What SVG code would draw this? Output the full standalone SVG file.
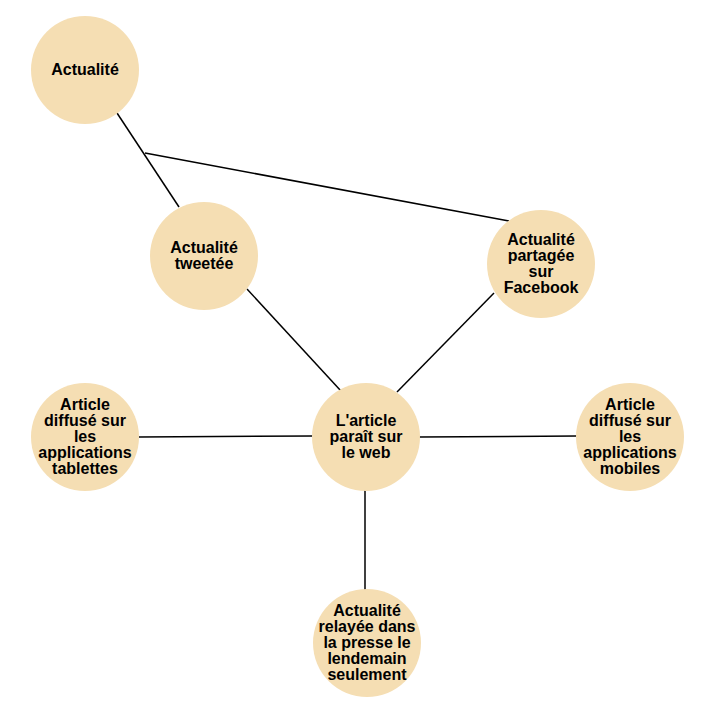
<svg xmlns="http://www.w3.org/2000/svg" width="718" height="725" viewBox="0 0 718 725">
<style>
.n{fill:#F5DEB3;stroke:none}
.t{font-family:"Liberation Sans",Arial,sans-serif;font-weight:bold;font-size:16px;fill:#000;text-anchor:middle}
.c line,.c polyline{stroke:#000;stroke-width:1.5;fill:none}
</style>
<rect width="718" height="725" fill="#fff"/>
<g id="connectors" class="c">
<line x1="117" y1="113" x2="179" y2="207"/>
<line x1="145" y1="153" x2="509" y2="221"/>
<line x1="247" y1="289" x2="341" y2="391"/>
<line x1="494" y1="293" x2="397" y2="392"/>
<line x1="139" y1="437" x2="313" y2="436"/>
<line x1="419" y1="437" x2="577" y2="436"/>
<line x1="365" y1="490" x2="365" y2="590"/>
</g>
<g id="actualite"><circle class="n" cx="85" cy="70" r="54"/><text class="t" x="85" y="75">Actualité</text></g>
<g id="tweetee"><circle class="n" cx="204" cy="256" r="54"/><text class="t" x="204" y="253">Actualité</text><text class="t" x="204" y="269">tweetée</text></g>
<g id="facebook"><circle class="n" cx="541" cy="264" r="54"/><text class="t" x="541" y="245">Actualité</text><text class="t" x="541" y="261">partagée</text><text class="t" x="541" y="277">sur</text><text class="t" x="541" y="293">Facebook</text></g>
<g id="web"><circle class="n" cx="366" cy="437" r="54"/><text class="t" x="366" y="426">L'article</text><text class="t" x="366" y="442">paraît sur</text><text class="t" x="366" y="458">le web</text></g>
<g id="tablettes"><circle class="n" cx="85" cy="437" r="54"/><text class="t" x="85" y="410">Article</text><text class="t" x="85" y="426">diffusé sur</text><text class="t" x="85" y="442">les</text><text class="t" x="85" y="458">applications</text><text class="t" x="85" y="474">tablettes</text></g>
<g id="mobiles"><circle class="n" cx="630" cy="437" r="54"/><text class="t" x="630" y="410">Article</text><text class="t" x="630" y="426">diffusé sur</text><text class="t" x="630" y="442">les</text><text class="t" x="630" y="458">applications</text><text class="t" x="630" y="474">mobiles</text></g>
<g id="presse"><circle class="n" cx="367" cy="643" r="54"/><text class="t" x="367" y="616">Actualité</text><text class="t" x="367" y="632">relayée dans</text><text class="t" x="367" y="648">la presse le</text><text class="t" x="367" y="664">lendemain</text><text class="t" x="367" y="680">seulement</text></g>
</svg>
